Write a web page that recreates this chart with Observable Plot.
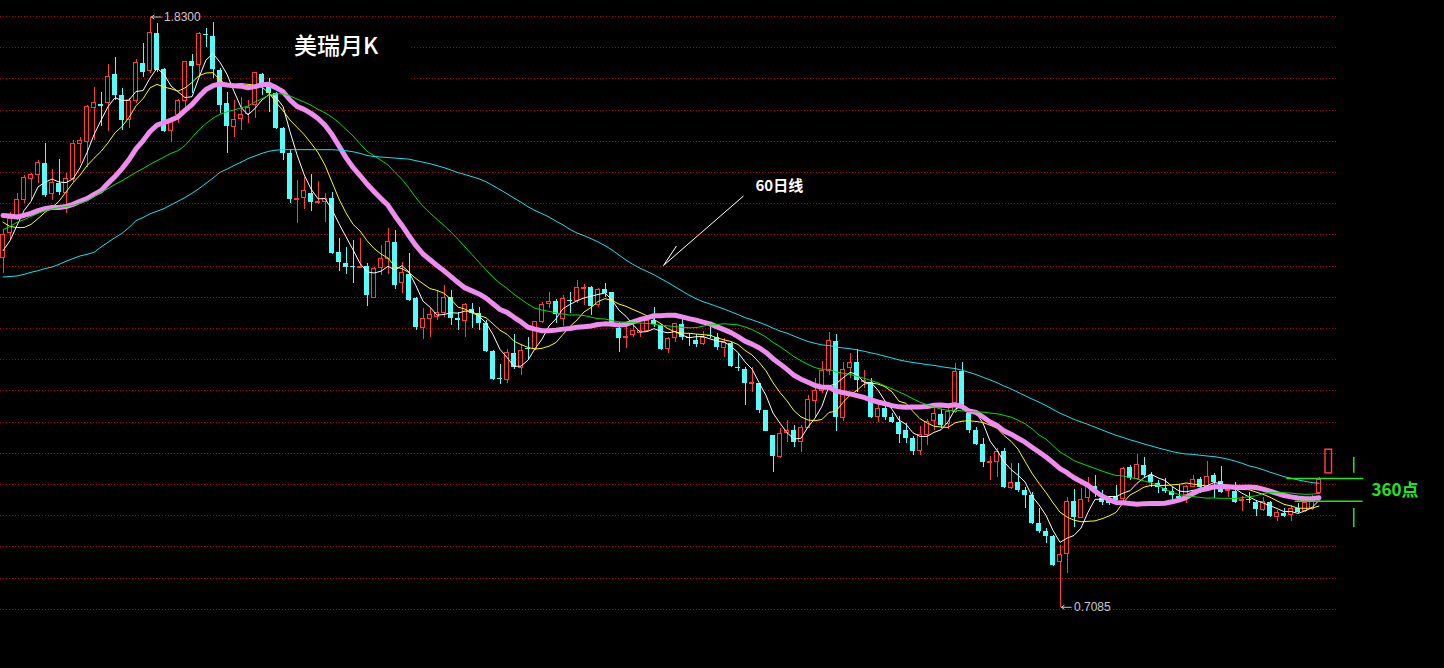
<!DOCTYPE html>
<html><head><meta charset="utf-8">
<script src="https://cdn.jsdelivr.net/npm/d3@7"></script>
<script src="https://cdn.jsdelivr.net/npm/@observablehq/plot@0.6"></script>
<style>
html,body{margin:0;padding:0;background:#000;overflow:hidden;}
#wrap{position:relative;width:1444px;height:668px;background:#000;}
#title{position:absolute;left:292px;top:30px;width:118px;height:55px;background:#000;color:#fff;font:500 23px "Noto Sans CJK SC",sans-serif;line-height:28px;padding-left:2px;box-sizing:border-box;white-space:nowrap;}
</style></head>
<body><div id="wrap"><div id="chart"></div><div id="title">美瑞月K</div></div>
<script>
// ---- monthly candles (price) ----
const open = [
1.373,1.419,1.449,1.483,1.523,1.529,1.552,1.493,1.514,1.495,
1.523,1.588,1.592,1.658,1.664,1.666,1.721,1.681,1.635,1.671,
1.742,1.728,1.799,1.730,1.613,1.643,1.671,1.746,1.738,1.797,
1.793,1.728,1.666,1.622,1.637,1.645,1.662,1.721,1.696,1.685,
1.618,1.571,1.483,1.487,1.495,1.476,1.478,1.485,1.383,1.362,
1.356,1.354,1.356,1.297,1.354,1.371,1.402,1.324,1.341,1.295,
1.240,1.257,1.261,1.267,1.297,1.257,1.253,1.274,1.267,1.248,
1.195,1.143,1.141,1.191,1.164,1.200,1.200,1.250,1.284,1.290,
1.257,1.291,1.290,1.314,1.316,1.282,1.312,1.307,1.238,1.221,
1.225,1.229,1.234,1.253,1.244,1.200,1.221,1.246,1.221,1.215,
1.208,1.225,1.221,1.202,1.210,1.164,1.160,1.132,1.134,1.082,
1.035,0.995,1.039,1.044,1.022,1.050,1.100,1.120,1.158,1.214,
1.069,1.164,1.174,1.136,1.136,1.071,1.086,1.069,1.060,1.044,
1.029,1.006,1.035,1.062,1.075,1.056,1.079,1.157,1.077,1.044,
1.018,0.982,0.984,1.005,0.936,0.946,0.930,0.921,0.868,0.853,
0.843,0.794,0.809,0.910,0.879,0.917,0.938,0.915,0.910,0.919,
0.915,0.974,0.953,0.978,0.959,0.944,0.934,0.929,0.919,0.921,
0.938,0.951,0.936,0.959,0.948,0.930,0.929,0.911,0.913,0.908,
0.894,0.908,0.881,0.887,0.883,0.896,0.892,0.896,0.925];
const high = [
1.424,1.459,1.495,1.529,1.533,1.557,1.590,1.540,1.559,1.533,
1.595,1.601,1.662,1.696,1.687,1.740,1.753,1.694,1.675,1.749,
1.780,1.830,1.818,1.732,1.639,1.673,1.746,1.759,1.801,1.808,
1.820,1.732,1.687,1.671,1.677,1.671,1.725,1.723,1.713,1.687,
1.620,1.578,1.519,1.525,1.531,1.518,1.495,1.497,1.409,1.392,
1.405,1.409,1.362,1.354,1.396,1.428,1.424,1.364,1.381,1.297,
1.276,1.276,1.310,1.320,1.310,1.269,1.286,1.286,1.278,1.253,
1.196,1.170,1.198,1.227,1.206,1.221,1.252,1.288,1.307,1.293,
1.301,1.307,1.329,1.322,1.318,1.314,1.324,1.307,1.250,1.248,
1.250,1.248,1.263,1.278,1.246,1.221,1.248,1.259,1.229,1.227,
1.233,1.240,1.229,1.219,1.212,1.191,1.164,1.164,1.134,1.082,
1.035,1.048,1.063,1.054,1.054,1.111,1.143,1.176,1.231,1.227,
1.174,1.191,1.198,1.158,1.143,1.096,1.092,1.077,1.071,1.058,
1.033,1.052,1.065,1.088,1.084,1.086,1.172,1.174,1.084,1.050,
1.029,0.995,1.010,1.010,0.982,0.982,0.936,0.927,0.896,0.858,
0.845,0.826,0.917,0.932,0.934,0.955,0.959,0.930,0.917,0.940,
0.974,0.978,0.999,0.993,0.965,0.949,0.953,0.936,0.940,0.940,
0.959,0.955,0.986,0.963,0.976,0.940,0.946,0.919,0.927,0.911,
0.917,0.910,0.892,0.896,0.902,0.906,0.908,0.921,0.955];
const low = [
1.343,1.405,1.443,1.476,1.481,1.514,1.487,1.481,1.491,1.457,
1.516,1.552,1.544,1.595,1.622,1.613,1.671,1.614,1.618,1.666,
1.715,1.723,1.725,1.611,1.592,1.628,1.658,1.685,1.715,1.772,
1.713,1.647,1.571,1.601,1.614,1.628,1.637,1.681,1.649,1.616,
1.557,1.476,1.438,1.464,1.461,1.474,1.440,1.379,1.347,1.341,
1.324,1.352,1.280,1.295,1.339,1.341,1.312,1.305,1.290,1.234,
1.217,1.221,1.253,1.259,1.244,1.234,1.221,1.238,1.234,1.193,
1.139,1.132,1.134,1.160,1.149,1.177,1.196,1.248,1.276,1.248,
1.242,1.267,1.286,1.282,1.263,1.278,1.297,1.246,1.193,1.200,
1.221,1.221,1.231,1.240,1.196,1.191,1.212,1.215,1.204,1.202,
1.206,1.219,1.196,1.183,1.164,1.157,1.092,1.117,1.077,1.043,
0.965,0.991,1.022,1.012,1.003,1.048,1.069,1.115,1.149,1.043,
1.062,1.143,1.117,1.124,1.067,1.060,1.063,1.058,1.020,1.020,
0.997,0.997,1.016,1.044,1.048,1.046,1.077,1.088,1.039,1.016,
0.974,0.949,0.955,0.934,0.932,0.927,0.896,0.866,0.849,0.830,
0.786,0.7085,0.773,0.860,0.877,0.908,0.917,0.902,0.902,0.904,
0.908,0.949,0.949,0.953,0.936,0.925,0.925,0.911,0.911,0.906,
0.936,0.925,0.934,0.915,0.925,0.917,0.906,0.891,0.906,0.881,
0.891,0.879,0.872,0.879,0.872,0.887,0.889,0.892,0.923];
const close = [
1.415,1.447,1.483,1.525,1.529,1.552,1.491,1.514,1.497,1.523,
1.588,1.595,1.660,1.666,1.660,1.717,1.681,1.633,1.670,1.742,
1.725,1.799,1.728,1.613,1.630,1.670,1.744,1.736,1.797,1.795,
1.730,1.662,1.622,1.635,1.643,1.658,1.723,1.704,1.685,1.618,
1.571,1.483,1.485,1.499,1.478,1.478,1.485,1.381,1.364,1.354,
1.355,1.356,1.301,1.352,1.371,1.402,1.320,1.343,1.291,1.240,
1.257,1.263,1.267,1.297,1.257,1.253,1.282,1.267,1.248,1.195,
1.141,1.141,1.191,1.164,1.196,1.198,1.250,1.282,1.288,1.265,
1.295,1.290,1.316,1.316,1.280,1.312,1.305,1.248,1.219,1.223,
1.233,1.234,1.253,1.246,1.198,1.219,1.246,1.221,1.219,1.208,
1.221,1.223,1.202,1.210,1.166,1.162,1.134,1.134,1.082,1.043,
0.995,1.037,1.044,1.022,1.050,1.103,1.120,1.158,1.215,1.069,
1.160,1.172,1.139,1.139,1.069,1.086,1.069,1.060,1.037,1.029,
1.005,1.035,1.060,1.075,1.054,1.079,1.155,1.092,1.044,1.018,
0.984,0.984,1.003,0.936,0.944,0.930,0.921,0.868,0.853,0.843,
0.788,0.807,0.908,0.879,0.913,0.938,0.930,0.908,0.906,0.911,
0.972,0.953,0.978,0.959,0.946,0.936,0.929,0.921,0.915,0.938,
0.951,0.936,0.957,0.946,0.927,0.932,0.908,0.913,0.911,0.894,
0.908,0.881,0.887,0.881,0.896,0.889,0.906,0.917,0.951];

// moving-average values before a full window exists
const ma5Head = [1.386,1.405,1.434,1.462];
const ma10Head = [1.440,1.432,1.430,1.430,1.436,1.447,1.459,1.468,1.480];
const ma20Head = [1.453,1.452,1.450,1.453,1.457,1.462,1.466,1.468,1.468,1.470,1.474,1.480,1.485,1.493,1.500,1.514,1.527,1.542,1.559];
const ma30Head = [1.426,1.432,1.440,1.445,1.451,1.457,1.462,1.465,1.468,1.470,1.472,1.476,1.481,1.489,1.497,1.504,1.512,1.519,1.527,1.535,1.542,1.550,1.557,1.564,1.571,1.576,1.586,1.601,1.616];
const ma60Head = [1.336,1.337,1.338,1.341,1.345,1.348,1.352,1.355,1.360,1.366,
1.371,1.376,1.379,1.383,1.393,1.402,1.411,1.419,1.430,1.443,
1.449,1.456,1.461,1.466,1.473,1.480,1.487,1.495,1.504,1.514,
1.524,1.535,1.541,1.548,1.554,1.561,1.566,1.571,1.575,1.577,
1.578,1.578,1.578,1.578,1.578,1.578,1.578,1.578,1.577,1.576,
1.574,1.571,1.567,1.565,1.564,1.563,1.562,1.561,1.560];

// dotted horizontal grid levels (price)
const gridLevels = [1.8310,1.7717,1.7124,1.6532,1.5939,1.5346,1.4753,1.4160,1.3568,1.2975,1.2382,1.1789,1.1196,1.0604,1.0011,0.9418,0.8825,0.8232,0.7640,0.7047];

// annotations
const note60 = {text: "60日线", x: 107.5, y: 1.508, lineFrom: [94.36, 1.358], lineTo: [105.79, 1.490], barb: [96.21, 1.395]};
const projBox = {x1: 188.93, x2: 189.86, y1: 0.963, y2: 1.008};
const rangeLines = [{y: 0.953, x1: 183.4, x2: 194.4}, {y: 0.910, x1: 184.6, x2: 194.3}];
const rangeTicks = [{x: 192.97, y1: 0.963, y2: 0.993}, {x: 192.97, y1: 0.860, y2: 0.896}];
const rangeLabel = {text: "360点", x: 195.5, y: 0.930};

const RED = "#ff3c3c", CYAN = "#54fcfc", GRID = "#c00000", GREEN = "#20e620";

const idx = d3.range(close.length);
const candles = idx.map(i => ({i, o: open[i], h: high[i], l: low[i], c: close[i], up: close[i] >= open[i]}));
const minBody = 0.0019;
candles.forEach(d => {
  let lo = Math.min(d.o, d.c), hi = Math.max(d.o, d.c);
  if (hi - lo < minBody) { const m = (lo + hi) / 2; lo = m - minBody / 2; hi = m + minBody / 2; }
  d.b1 = lo; d.b2 = hi;
});
const ups = candles.filter(d => d.up), downs = candles.filter(d => !d.up);

function ma(k, head) {
  return idx.map(i => ({i, v: i < k - 1 ? head[i] : d3.mean(close.slice(i - k + 1, i + 1))}));
}
const ma5 = ma(5, ma5Head), ma10 = ma(10, ma10Head), ma20 = ma(20, ma20Head), ma30 = ma(30, ma30Head), ma60 = ma(60, ma60Head);

const hiI = d3.maxIndex(high), loI = d3.minIndex(low);
const extremes = [
  {i: hiI, v: high[hiI], label: high[hiI].toFixed(4)},
  {i: loI, v: low[loI], label: low[loI].toFixed(4)}
];

const chart = Plot.plot({
  width: 1444, height: 668, margin: 0,
  x: {domain: [-2.5 / 7, (1444 - 2.5) / 7], axis: null},
  y: {domain: [0.5922, 1.8614], axis: null},
  style: {background: "#000", overflow: "visible"},
  marks: [
    Plot.ruleY(gridLevels, {y: d => d, x1: -0.36, x2: 190.64, stroke: GRID, strokeDasharray: "1,2", shapeRendering: "crispEdges"}),
    Plot.ruleX(ups, {x: "i", y1: "l", y2: "h", stroke: RED, strokeWidth: 1, shapeRendering: "crispEdges"}),
    Plot.ruleX(downs, {x: "i", y1: "l", y2: "h", stroke: CYAN, strokeWidth: 1, shapeRendering: "crispEdges"}),
    Plot.rect(ups, {x1: d => d.i - 2 / 7, x2: d => d.i + 2 / 7, y1: "b1", y2: "b2", fill: "#000", stroke: RED, strokeWidth: 1, shapeRendering: "crispEdges"}),
    Plot.rect(downs, {x1: d => d.i - 2.5 / 7, x2: d => d.i + 2.5 / 7, y1: "b1", y2: "b2", fill: CYAN, shapeRendering: "crispEdges"}),
    Plot.line(ma5, {x: "i", y: "v", stroke: "#ffffff", strokeWidth: 1}),
    Plot.line(ma10, {x: "i", y: "v", stroke: "#ffff00", strokeWidth: 1}),
    Plot.line(ma20, {x: "i", y: "v", stroke: "#f08cf0", strokeWidth: 5, strokeLinejoin: "round"}),
    Plot.line(ma30, {x: "i", y: "v", stroke: "#00e000", strokeWidth: 1}),
    Plot.line(ma60, {x: "i", y: "v", stroke: "#19e0f0", strokeWidth: 1}),
    // extreme labels
    Plot.arrow(extremes, {x1: d => d.i + 1.6, x2: d => d.i + 0.2, y1: "v", y2: "v", stroke: "#c8c8c8", strokeWidth: 1, headLength: 5, headAngle: 70}),
    Plot.text(extremes, {x: "i", y: "v", text: "label", dx: 14, textAnchor: "start", fill: "#c8c8d2", fontSize: 12, fontFamily: "Liberation Sans, Arial, sans-serif"}),
    // 60日线 note
    Plot.link([note60], {x1: d => d.lineFrom[0], y1: d => d.lineFrom[1], x2: d => d.lineTo[0], y2: d => d.lineTo[1], stroke: "#ffffff", strokeWidth: 1}),
    Plot.link([note60], {x1: d => d.lineFrom[0], y1: d => d.lineFrom[1], x2: d => d.barb[0], y2: d => d.barb[1], stroke: "#ffffff", strokeWidth: 1}),
    Plot.text([note60], {x: "x", y: "y", text: "text", textAnchor: "start", fill: "#ffffff", fontSize: 15, fontWeight: "bold", fontFamily: "Noto Sans CJK SC, sans-serif"}),
    // projection box and 360点 range
    Plot.rect([projBox], {x1: "x1", x2: "x2", y1: "y1", y2: "y2", fill: "none", stroke: RED, strokeWidth: 1.5}),
    Plot.ruleY(rangeLines, {y: "y", x1: "x1", x2: "x2", stroke: GREEN, strokeWidth: 1.5}),
    Plot.ruleX(rangeTicks, {x: "x", y1: "y1", y2: "y2", stroke: GREEN, strokeWidth: 1.5}),
    Plot.text([rangeLabel], {x: "x", y: "y", text: "text", textAnchor: "start", fill: GREEN, fontSize: 17, fontWeight: "bold", fontFamily: "Noto Sans CJK SC, sans-serif"})
  ]
});
document.getElementById("chart").appendChild(chart);
</script></body></html>
